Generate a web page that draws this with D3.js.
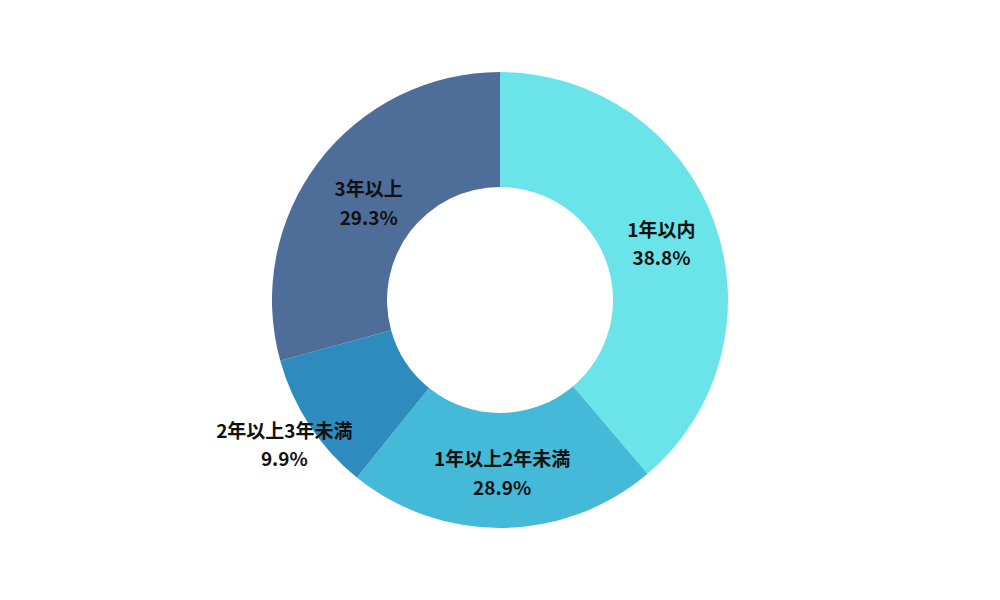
<!DOCTYPE html>
<html><head><meta charset="utf-8">
<script src="https://cdn.jsdelivr.net/npm/d3@7"></script>
<style>body{margin:0;background:#fff}</style>
</head><body><div id="chart"></div>
<script>
// slice sizes as drawn in the picture; labels as printed
const categories = ["1年以内", "1年以上2年未満", "2年以上3年未満", "3年以上"];
const values = [38.8, 22.0, 9.9, 29.3];
const pctLabels = ["38.8%", "28.9%", "9.9%", "29.3%"];
const colors = ["#6ae4e8", "#45b9d8", "#2e8bbd", "#4f6d99"];

const width = 1000, height = 600, cx = 500, cy = 300;
const outerR = 228, innerR = 113;

const svg = d3.select("#chart").append("svg").attr("width", width).attr("height", height);
const g = svg.append("g").attr("transform", `translate(${cx},${cy})`);

const pie = d3.pie().sort(null).value(d => d);
const arcs = pie(values);
const arc = d3.arc().innerRadius(innerR).outerRadius(outerR);

g.selectAll("path").data(arcs).join("path")
  .attr("d", arc).attr("fill", (d, i) => colors[i]);

const labelR = [172, 170, 258, 165];
const labels = g.selectAll("text.lbl").data(arcs).join("text")
  .attr("class", "lbl")
  .attr("text-anchor", "middle")
  .style("font-family", "'Noto Sans CJK JP', 'Noto Sans', sans-serif")
  .style("font-size", "19px").style("font-weight", "bold").attr("fill", "#111")
  .attr("transform", (d, i) => {
    const a = (d.startAngle + d.endAngle) / 2;
    return `translate(${Math.sin(a) * labelR[i]},${-Math.cos(a) * labelR[i]})`;
  });
labels.append("tspan").attr("x", 0).attr("dy", "-0.2em").text((d, i) => categories[i]);
labels.append("tspan").attr("x", 0).attr("dy", "1.5em").text((d, i) => pctLabels[i]);
</script></body></html>
